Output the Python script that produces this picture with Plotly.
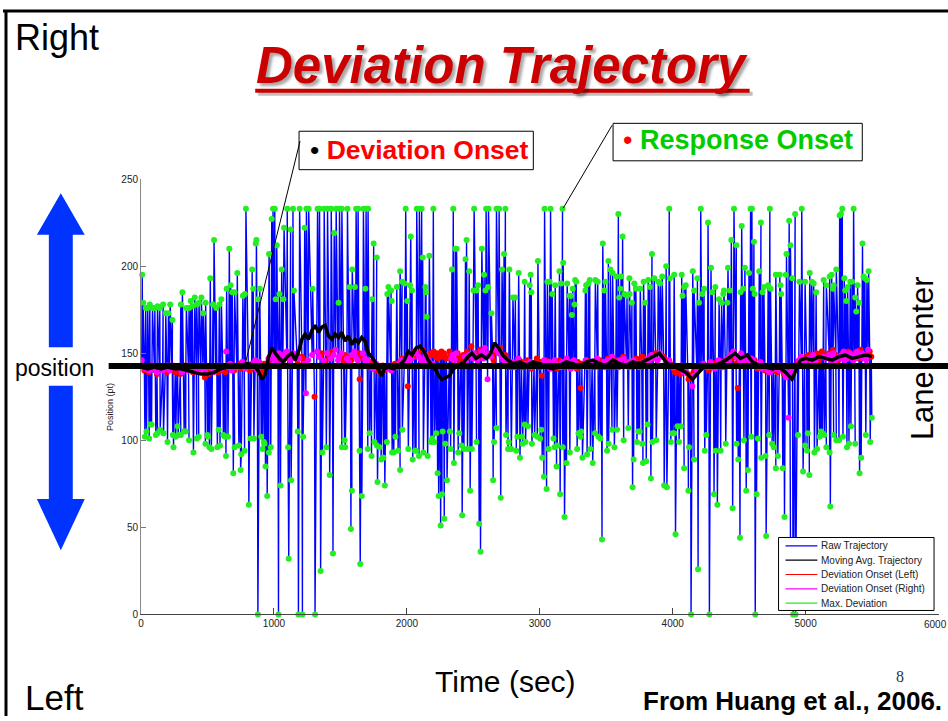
import plotly.graph_objects as go

# ---------------- data ----------------
# Right-side (upward) maximum deviations: time (sec) and position (pt)
up_time = [
    9, 16, 35, 50, 66, 86, 104, 124, 141, 166,
    186, 206, 219, 236, 299, 311, 341, 361, 374, 386,
    404, 419, 436, 454, 469, 486, 521, 541, 549, 566,
    589, 604, 644, 664, 674, 686, 704, 724, 766, 781,
    789, 836, 844, 863, 868, 878, 893, 963, 983, 993,
    1006, 1013, 1021, 1041, 1058, 1071, 1076, 1100, 1125, 1143,
    1150, 1193, 1231, 1244, 1261, 1291, 1328, 1343, 1378, 1403,
    1431, 1453, 1468, 1486, 1493, 1511, 1553, 1569, 1589, 1609,
    1618, 1633, 1673, 1688, 1693, 1708, 1738, 1750, 1773, 1853,
    1861, 1881, 1886, 1924, 1949, 1964, 1984, 1991, 2003, 2024,
    2029, 2039, 2074, 2094, 2111, 2119, 2139, 2144, 2149, 2169,
    2199, 2339, 2349, 2364, 2374, 2441, 2449, 2469, 2501, 2506,
    2524, 2536, 2564, 2581, 2591, 2596, 2611, 2614, 2636, 2674,
    2694, 2716, 2731, 2741, 2771, 2798, 2816, 2841, 2886, 2924,
    2931, 2936, 2986, 3036, 3057, 3074, 3081, 3094, 3116, 3148,
    3161, 3171, 3176, 3206, 3224, 3236, 3241, 3248, 3261, 3266,
    3274, 3343, 3349, 3366, 3376, 3418, 3436, 3474, 3486, 3494,
    3516, 3531, 3548, 3576, 3591, 3598, 3606, 3611, 3623, 3636,
    3656, 3674, 3676, 3693, 3711, 3723, 3756, 3781, 3793, 3816,
    3828, 3844, 3861, 3891, 3906, 3921, 3951, 3974, 3978, 4011,
    4068, 4074, 4086, 4098, 4151, 4161, 4186, 4198, 4211, 4223,
    4236, 4266, 4288, 4298, 4321, 4349, 4368, 4381, 4386, 4411,
    4416, 4429, 4441, 4461, 4479, 4511, 4519, 4531, 4543, 4574,
    4586, 4596, 4603, 4611, 4616, 4651, 4664, 4676, 4686, 4718,
    4731, 4736, 4776, 4806, 4811, 4816, 4851, 4856, 4876, 4886,
    4899, 4921, 4954, 4971, 4996, 5031, 5046, 5061, 5079, 5136,
    5156, 5181, 5196, 5206, 5211, 5231, 5256, 5266, 5276, 5291,
    5298, 5306, 5316, 5336, 5349, 5361, 5373, 5381, 5391, 5403,
    5428, 5436, 5446, 5461, 5474,
]
up_pos = [
    195, 179, 176, 176, 178, 176, 176, 177, 176, 178,
    173, 173, 178, 169, 178, 185, 176, 176, 180, 177,
    182, 178, 179, 182, 173, 179, 193, 178, 215, 176,
    178, 181, 187, 210, 189, 185, 185, 196, 183, 184,
    233, 198, 187, 213, 215, 181, 187, 207, 227, 233,
    233, 181, 212, 184, 198, 181, 222, 233, 221, 233,
    186, 233, 222, 233, 233, 187, 233, 233, 233, 233,
    233, 219, 233, 179, 233, 233, 233, 188, 198, 188,
    233, 233, 233, 187, 233, 233, 181, 213, 205, 184,
    188, 186, 180, 188, 197, 191, 190, 233, 180, 189,
    217, 186, 233, 233, 233, 205, 188, 185, 171, 206,
    233, 198, 233, 210, 210, 204, 215, 197, 186, 233,
    186, 189, 210, 195, 186, 233, 188, 233, 173, 233,
    233, 198, 207, 233, 198, 182, 182, 196, 191, 189,
    195, 185, 203, 233, 191, 191, 233, 184, 189, 197,
    190, 233, 202, 190, 183, 183, 172, 187, 178, 192,
    191, 186, 189, 190, 192, 192, 191, 213, 186, 191,
    203, 198, 196, 194, 230, 182, 187, 194, 217, 184,
    183, 193, 184, 179, 190, 187, 187, 191, 179, 192,
    188, 207, 193, 191, 190, 194, 200, 233, 193, 195,
    195, 183, 188, 189, 197, 186, 193, 179, 233, 184,
    187, 225, 199, 185, 188, 181, 179, 184, 186, 179,
    199, 186, 215, 233, 212, 185, 223, 187, 199, 196,
    233, 233, 187, 214, 184, 197, 225, 185, 188, 189,
    233, 187, 195, 195, 189, 184, 195, 207, 226, 212,
    193, 230, 191, 233, 191, 196, 191, 190, 185, 192,
    189, 194, 195, 187, 189, 198, 229, 230, 233, 193,
    186, 180, 188, 191, 191, 233, 182, 174, 189, 179,
    213, 194, 193, 192, 197,
]
# position at the onset of each right-side deviation (magenta dots)
up_onset_pos = [
    146, 143, 141, 142, 140, 143, 141, 139, 142, 140,
    141, 143, 140, 142, 141, 139, 142, 140, 143, 141,
    140, 142, 139, 141, 143, 140, 142, 141, 139, 142,
    143, 141, 151, 142, 144, 140, 143, 142, 145, 143,
    141, 144, 142, 146, 143, 140, 145, 147, 143, 149,
    146, 148, 144, 150, 147, 145, 149, 151, 146, 148,
    150, 147, 144, 127, 146, 149, 151, 148, 146, 150,
    147, 149, 152, 146, 148, 150, 147, 145, 149, 151,
    148, 146, 150, 147, 144, 146, 143, 141, 144, 142,
    141, 143, 140, 142, 144, 146, 143, 145, 148, 146,
    149, 147, 150, 148, 146, 144, 147, 149, 145, 146,
    144, 147, 149, 146, 150, 148, 145, 149, 147, 150,
    148, 146, 151, 147, 153, 149, 135, 150, 148, 152,
    150, 148, 146, 144, 143, 145, 142, 147, 144, 143,
    145, 142, 144, 146, 143, 145, 141, 144, 146, 143,
    142, 145, 143, 147, 144, 141, 145, 143, 146, 142,
    144, 143, 146, 142, 145, 144, 147, 143, 145, 142,
    146, 144, 148, 143, 145, 142, 146, 144, 143, 147,
    144, 142, 145, 143, 146, 144, 142, 145, 143, 147,
    145, 149, 147, 146, 150, 148, 145, 143, 146, 142,
    143, 141, 139, 140, 131, 137, 140, 142, 141, 143,
    144, 142, 145, 143, 141, 146, 144, 142, 145, 143,
    147, 145, 149, 151, 148, 146, 150, 148, 146, 147,
    145, 147, 143, 146, 144, 142, 145, 141, 143, 140,
    142, 139, 141, 143, 140, 142, 138, 136, 113, 139,
    141, 143, 146, 148, 145, 147, 144, 149, 146, 148,
    147, 149, 145, 148, 150, 146, 148, 147, 149, 151,
    146, 149, 147, 150, 148, 146, 149, 147, 151, 148,
    150, 147, 149, 146, 152,
]

# Left-side (downward) maximum deviations
down_time = [
    29, 41, 61, 69, 79, 111, 124, 144, 169, 199,
    239, 244, 261, 274, 279, 299, 324, 336, 361, 394,
    419, 434, 484, 499, 504, 514, 529, 574, 584, 594,
    619, 631, 639, 654, 694, 704, 736, 749, 754, 779,
    811, 824, 849, 879, 904, 914, 924, 929, 936, 949,
    961, 976, 1034, 1049, 1106, 1111, 1129, 1179, 1184, 1214,
    1219, 1309, 1351, 1364, 1394, 1419, 1444, 1511, 1531, 1536,
    1579, 1586, 1644, 1649, 1661, 1706, 1719, 1734, 1756, 1774,
    1779, 1794, 1806, 1819, 1824, 1834, 1849, 1889, 1901, 1914,
    1934, 1949, 1966, 2011, 2044, 2061, 2069, 2091, 2124, 2156,
    2181, 2191, 2206, 2221, 2231, 2239, 2254, 2264, 2269, 2281,
    2289, 2302, 2324, 2329, 2354, 2386, 2394, 2411, 2416, 2429,
    2456, 2476, 2489, 2524, 2544, 2554, 2649, 2656, 2674, 2706,
    2746, 2761, 2766, 2786, 2823, 2831, 2851, 2866, 2871, 2886,
    2893, 2911, 2941, 2961, 2981, 3003, 3011, 3018, 3031, 3051,
    3066, 3103, 3111, 3126, 3131, 3153, 3173, 3186, 3201, 3226,
    3281, 3291, 3306, 3311, 3321, 3356, 3381, 3398, 3416, 3441,
    3456, 3468, 3506, 3518, 3543, 3561, 3581, 3631, 3666, 3698,
    3706, 3731, 3741, 3751, 3771, 3776, 3801, 3811, 3836, 3848,
    3876, 3936, 3956, 3986, 3998, 4011, 4021, 4036, 4048, 4061,
    4086, 4118, 4123, 4138, 4161, 4191, 4241, 4253, 4276, 4311,
    4323, 4336, 4361, 4399, 4451, 4481, 4493, 4506, 4536, 4553,
    4566, 4591, 4621, 4631, 4641, 4666, 4698, 4703, 4726, 4748,
    4761, 4776, 4791, 4828, 4841, 4886, 4906, 4924, 4943, 4981,
    4996, 5011, 5016, 5028, 5066, 5086, 5106, 5116, 5126, 5141,
    5156, 5181, 5186, 5211, 5231, 5251, 5281, 5311, 5326, 5341,
    5373, 5406, 5418, 5453, 5486, 5498,
]
down_pos = [
    102, 105, 101, 109, 109, 103, 104, 106, 104, 99,
    103, 96, 102, 108, 103, 103, 105, 105, 100, 93,
    101, 102, 98, 103, 102, 96, 95, 96, 106, 97,
    103, 102, 91, 102, 81, 96, 97, 83, 92, 94,
    63, 101, 101, 0, 102, 95, 99, 98, 85, 68,
    93, 96, 0, 74, 96, 32, 77, 105, 0, 0,
    102, 0, 25, 93, 96, 80, 35, 96, 100, 96,
    49, 71, 94, 29, 68, 95, 104, 91, 99, 97,
    76, 96, 89, 90, 90, 74, 99, 93, 93, 102,
    94, 83, 106, 95, 89, 94, 94, 91, 93, 91,
    99, 101, 99, 104, 81, 68, 51, 69, 105, 55,
    98, 77, 105, 95, 87, 93, 104, 97, 57, 95,
    95, 71, 95, 99, 52, 36, 77, 99, 107, 67,
    103, 95, 99, 95, 94, 102, 90, 102, 98, 109,
    99, 108, 98, 103, 102, 101, 106, 90, 79, 72,
    95, 101, 96, 85, 97, 69, 96, 56, 87, 93,
    95, 104, 102, 105, 90, 92, 95, 87, 104, 102,
    101, 43, 94, 98, 106, 96, 106, 100, 107, 73,
    89, 99, 105, 105, 98, 87, 88, 109, 78, 99,
    100, 74, 73, 99, 104, 104, 46, 108, 99, 108,
    84, 71, 96, 0, 89, 26, 94, 103, 0, 69,
    94, 63, 94, 98, 61, 98, 89, 44, 100, 71,
    83, 102, 0, 69, 101, 90, 91, 45, 103, 98,
    96, 84, 91, 84, 56, 40, 0, 0, 103, 82,
    97, 94, 104, 80, 93, 95, 102, 105, 104, 103,
    96, 93, 62, 103, 100, 100, 102, 96, 98, 108,
    98, 81, 90, 103, 99, 113,
]
# position at the onset of each left-side deviation (red dots)
down_onset_pos = [
    140, 142, 139, 141, 143, 140, 138, 142, 141, 139,
    141, 143, 139, 140, 142, 138, 141, 143, 140, 139,
    142, 140, 136, 139, 141, 138, 140, 142, 139, 141,
    140, 142, 139, 143, 141, 140, 142, 144, 141, 143,
    142, 140, 143, 141, 139, 142, 138, 144, 141, 143,
    145, 143, 146, 148, 150, 147, 149, 146, 144, 148,
    147, 125, 148, 150, 146, 149, 151, 147, 145, 149,
    148, 146, 150, 135, 147, 144, 142, 145, 141, 143,
    140, 142, 139, 141, 143, 140, 142, 141, 143, 144,
    142, 145, 147, 131, 149, 151, 148, 150, 152, 148,
    150, 149, 151, 148, 150, 147, 149, 151, 148, 150,
    149, 147, 151, 148, 146, 150, 148, 145, 147, 149,
    151, 148, 154, 150, 147, 152, 149, 146, 151, 153,
    149, 146, 144, 142, 145, 143, 146, 144, 142, 145,
    143, 146, 141, 144, 147, 142, 145, 137, 143, 146,
    144, 142, 145, 143, 141, 146, 144, 142, 145, 143,
    141, 145, 143, 130, 144, 146, 143, 145, 142, 144,
    146, 143, 145, 147, 144, 142, 146, 148, 145, 143,
    145, 147, 144, 142, 146, 148, 145, 143, 147, 149,
    150, 148, 146, 144, 143, 141, 139, 142, 140, 138,
    140, 138, 135, 137, 139, 141, 143, 142, 140, 144,
    143, 145, 142, 146, 147, 144, 130, 146, 148, 145,
    147, 144, 146, 143, 141, 143, 140, 142, 139, 141,
    140, 142, 139, 141, 138, 137, 140, 142, 145, 147,
    146, 148, 145, 149, 147, 150, 146, 148, 151, 149,
    148, 150, 147, 152, 149, 146, 150, 148, 151, 149,
    150, 147, 152, 149, 151, 148,
]
RISE_SEC = 4  # typical onset-to-peak rise time (seconds)

# Moving average trajectory
ma_time = [0, 50, 100, 150, 200, 250, 300, 350, 400, 450, 500, 550, 600, 650, 700, 750, 800, 850,
           880, 911, 935, 960, 985, 1010, 1040, 1070, 1100, 1135, 1160, 1190, 1210, 1235, 1260,
           1285, 1310, 1335, 1360, 1385, 1410, 1435, 1460, 1485, 1510, 1535, 1560, 1585, 1610,
           1635, 1660, 1685, 1710, 1735, 1760, 1790, 1811, 1830, 1860, 1900, 1940, 1980, 2010,
           2040, 2070, 2100, 2130, 2160, 2190, 2220, 2240, 2261, 2290, 2320, 2350, 2390, 2430,
           2460, 2490, 2520, 2560, 2600, 2630, 2660, 2690, 2720, 2760, 2800, 2850, 2900, 2950,
           3000, 3050, 3100, 3150, 3200, 3250, 3300, 3350, 3400, 3450, 3500, 3550, 3600, 3650,
           3700, 3750, 3800, 3850, 3900, 3930, 3960, 4000, 4050, 4100, 4148, 4180, 4220, 4260,
           4300, 4350, 4400, 4436, 4470, 4510, 4561, 4600, 4650, 4700, 4750, 4800, 4850, 4886,
           4898, 4920, 4961, 5000, 5050, 5100, 5150, 5200, 5250, 5300, 5350, 5400, 5450, 5500]
ma_pos = [142, 141, 142, 141, 142, 141, 141, 140, 139, 138, 138, 139, 141, 142, 142, 143, 144, 143,
          140, 135, 138, 148, 153, 150, 147, 145, 148, 150, 146, 152, 158, 161, 158,
          163, 166, 162, 165, 166, 160, 158, 161, 159, 162, 157, 160, 155, 158,
          156, 159, 157, 150, 148, 145, 140, 137, 141, 142, 141, 143, 146, 151,
          149, 153, 154, 151, 146, 143, 140, 137, 135, 136, 137, 141, 143, 145,
          148, 150, 147, 149, 147, 150, 156, 153, 149, 146, 144, 145, 143, 145,
          144, 142, 141, 143, 145, 144, 142, 145, 146, 144, 143, 146, 144, 143,
          145, 144, 146, 148, 150, 147, 144, 143, 141, 139, 135, 138, 141, 143,
          142, 144, 146, 148, 150, 147, 149, 145, 143, 142, 141, 142, 139, 136,
          135, 139, 146, 147, 146, 148, 147, 146, 148, 149, 147, 148, 149, 148]

LANE_CENTER = 142.6
x_ticks = [0, 1000, 2000, 3000, 4000, 5000, 6000]
x_tick_text = ["0", "1000", "2000", "3000", "4000", "5000", ""]  # 6000 drawn at the page edge
last_x_label = "6000"
y_ticks = [0, 50, 100, 150, 200, 250]
legend_names = ["Raw Trajectory", "Moving Avg. Trajectory", "Deviation Onset (Left)",
                "Deviation Onset (Right)", "Max. Deviation"]

# ---------------- build series ----------------
events = sorted(
    [(t, v, o) for t, v, o in zip(up_time, up_pos, up_onset_pos)]
    + [(t, v, o) for t, v, o in zip(down_time, down_pos, down_onset_pos)]
)
raw_t, raw_v = [], []
for t, v, o in events:
    raw_t += [t - RISE_SEC, t]
    raw_v += [o, v]

right_on_t = [t - RISE_SEC for t in up_time]
left_on_t = [t - RISE_SEC for t in down_time]

W, H = 948, 721


def px(x):
    return x / W


def py(y):
    return 1 - y / H


BLUE = "#0000FF"
GREEN = "#22EE22"
RED = "#FF0000"
MAG = "#FF00FF"
legend_colors = [BLUE, "black", RED, MAG, GREEN]

fig = go.Figure()
fig.add_trace(go.Scatter(x=raw_t, y=raw_v, mode="lines", line=dict(color=BLUE, width=1.4),
                         name=legend_names[0], showlegend=False, hoverinfo="skip"))
fig.add_trace(go.Scatter(x=up_time + down_time, y=up_pos + down_pos, mode="markers",
                         marker=dict(color=GREEN, size=6, line=dict(width=0)),
                         name=legend_names[4], cliponaxis=False, showlegend=False,
                         hoverinfo="skip"))
fig.add_trace(go.Scatter(x=left_on_t, y=down_onset_pos, mode="markers",
                         marker=dict(color=RED, size=6, line=dict(width=0)),
                         name=legend_names[2], showlegend=False, hoverinfo="skip"))
fig.add_trace(go.Scatter(x=right_on_t, y=up_onset_pos, mode="markers",
                         marker=dict(color=MAG, size=6, line=dict(width=0)),
                         name=legend_names[3], showlegend=False, hoverinfo="skip"))
fig.add_trace(go.Scatter(x=ma_time, y=ma_pos, mode="lines", line=dict(color="black", width=3.5),
                         name=legend_names[1], showlegend=False, hoverinfo="skip"))

ann = []


def text(x, y, s, size, color="black", family="Liberation Sans", xanchor="center",
         angle=0, **kw):
    ann.append(dict(x=px(x), y=py(y), xref="paper", yref="paper", text=s, showarrow=False,
                    xanchor=xanchor, yanchor="middle", textangle=angle,
                    font=dict(size=size, color=color, family=family, **kw)))


text(10, 33, "Right", 36, xanchor="left")
text(501, 61, "<b><i>Deviation Trajectory</i></b>", 51, color="#CC0000",
     shadow="3px 3px 3px rgba(0,0,0,0.35)")
text(52, 368, "position", 23)
text(922, 358, "Lane center", 31, angle=-90)
text(20, 702, "Left", 35, xanchor="left")
text(504, 686, "Time (sec)", 30)
text(900, 681, "8", 16, color="#333", family="Liberation Serif")
text(944, 706, "<b>From Huang et al., 2006.</b>", 26, xanchor="right")
text(306, 147, "•\u00a0<span style='color:#FF0000'><b>Deviation Onset</b></span>", 26.5,
     xanchor="left")
text(620, 137, "<span style='color:#FF0000'>•</span>\u00a0<b>Response Onset</b>", 27,
     color="#00CC00", xanchor="left")
text(108, 408, "Position (pt)", 9, color="#222", angle=-90)
# last x tick label, cut by the page edge as in the slide
ann.append(dict(x=1.0, y=py(621.5), xref="paper", yref="paper", text=last_x_label,
                showarrow=False, xanchor="right", yanchor="top", borderpad=0,
                font=dict(size=10, color="#222", family="Liberation Sans")))

shapes = []


def pline(x0, y0, x1, y1, color="black", width=1):
    shapes.append(dict(type="line", xref="paper", yref="paper", x0=px(x0), y0=py(y0),
                       x1=px(x1), y1=py(y1), line=dict(color=color, width=width), layer="above"))


def ppoly(points, color):
    path = "M " + " L ".join(f"{px(a):.5f},{py(b):.5f}" for a, b in points) + " Z"
    shapes.append(dict(type="path", xref="paper", yref="paper", path=path, fillcolor=color,
                       line=dict(width=0), layer="above"))


# slide frame
pline(0, 6, W, 6, width=3)
pline(3, 6, 3, H, width=3)
# title underline with shadow
pline(256, 90, 752, 90, color="rgba(0,0,0,0.25)", width=4)
pline(253, 87, 749, 87, color="#CC0000", width=4)
# blue arrows
ppoly([(46, 347), (46, 233), (34, 233), (58, 191), (82, 233), (70, 233), (70, 347)], "#0033FF")
ppoly([(46, 386), (46, 501), (34, 501), (58, 553), (82, 501), (70, 501), (70, 386)], "#0033FF")
# callout boxes
shapes.append(dict(type="rect", xref="paper", yref="paper", x0=px(297), y0=py(128), x1=px(532),
                   y1=py(167), line=dict(color="black", width=1), fillcolor="white",
                   layer="below"))
shapes.append(dict(type="rect", xref="paper", yref="paper", x0=px(612), y0=py(120), x1=px(862),
                   y1=py(158), line=dict(color="black", width=1), fillcolor="white",
                   layer="below"))
pline(298, 138, 243, 364)
pline(611, 122, 562, 206)
# lane center line
shapes.append(dict(type="line", xref="paper", yref="y", x0=px(106), x1=1.0, y0=LANE_CENTER,
                   y1=LANE_CENTER, line=dict(color="black", width=6), layer="above"))

# legend box (drawn to match the compact MATLAB legend)
shapes.append(dict(type="rect", xref="paper", yref="paper", x0=px(778), y0=py(540), x1=px(934),
                   y1=py(614), line=dict(color="black", width=1), fillcolor="white",
                   layer="above"))
for i, (name, col) in enumerate(zip(legend_names, legend_colors)):
    yy = 548.5 + i * 14.5
    pline(785, yy, 817, yy, color=col, width=1.2)
    text(819, yy, name, 10, color="#222", xanchor="left")

fig.update_layout(
    width=W, height=H, margin=dict(l=0, r=0, t=0, b=0),
    paper_bgcolor="white", plot_bgcolor="white",
    annotations=ann, shapes=shapes,
    showlegend=False,
    xaxis=dict(domain=[px(138.5), px(938.5)], range=[0, 6000], tickvals=x_ticks,
               ticktext=x_tick_text,
               ticks="inside", ticklen=6, tickcolor="#444", showline=True, linecolor="#444",
               linewidth=1, showgrid=False, zeroline=False,
               tickfont=dict(size=10, color="#222", family="Liberation Sans")),
    yaxis=dict(domain=[py(618), py(176.5)], range=[0, 250], tickvals=y_ticks,
               ticks="inside", ticklen=5, tickcolor="#777", showline=True, linecolor="#888",
               linewidth=1, showgrid=False, zeroline=False,
               tickfont=dict(size=10, color="#222", family="Liberation Sans")),
)

fig.write_html("out.html")
